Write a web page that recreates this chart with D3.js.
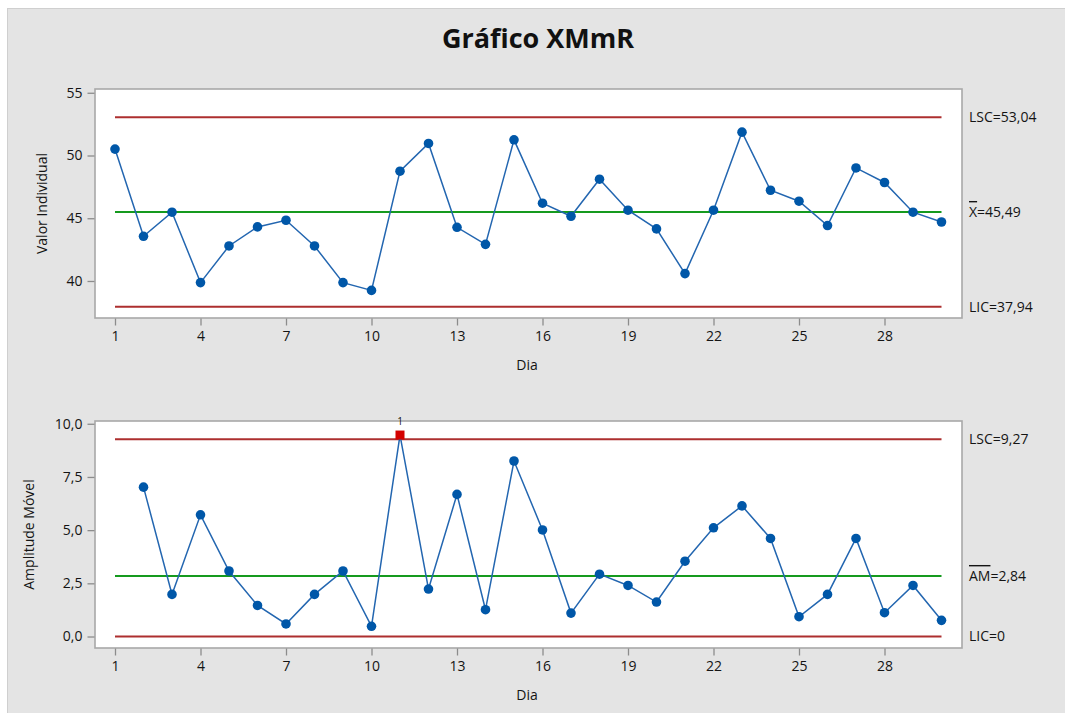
<!DOCTYPE html>
<html>
<head>
<meta charset="utf-8">
<script src="https://cdn.jsdelivr.net/npm/d3@7"></script>
<style>
  html, body { margin: 0; padding: 0; background: #ffffff; }
  svg { display: block; font-family: "Open Sans", "Noto Sans", sans-serif; }
</style>
</head>
<body>
<svg id="chart" width="1065" height="713"></svg>
<script>
// Days (subgroup index)
const days = [1, 2, 3, 4, 5, 6, 7, 8, 9, 10, 11, 12, 13, 14, 15,
              16, 17, 18, 19, 20, 21, 22, 23, 24, 25, 26, 27, 28, 29, 30];

// Individual observations
const individual = [50.51, 43.56, 45.48, 39.87, 42.79, 44.31, 44.84, 42.79, 39.87, 39.25,
                    48.75, 50.96, 44.28, 42.92, 51.25, 46.20, 45.16, 48.11, 45.64, 44.15,
                    40.59, 45.64, 51.86, 47.23, 46.36, 44.42, 49.01, 47.85, 45.48, 44.70];

// Moving ranges (none for the first day)
const movingRange = [null, 7.02, 1.98, 5.72, 3.08, 1.46, 0.59, 1.98, 3.08, 0.48,
                     9.47, 2.23, 6.68, 1.26, 8.25, 5.01, 1.10, 2.93, 2.40, 1.62,
                     3.54, 5.11, 6.14, 4.61, 0.93, 1.98, 4.61, 1.12, 2.40, 0.76];

// Control limits: [upper, center, lower]
const indLimits = [53.04, 45.49, 37.94];
const mrLimits = [9.27, 2.84, 0];
const indLimitLabels = ["LSC=53,04", "X=45,49", "LIC=37,94"];
const mrLimitLabels = ["LSC=9,27", "AM=2,84", "LIC=0"];

// Tick values
const xTicks = [1, 4, 7, 10, 13, 16, 19, 22, 25, 28];
const indTicks = [40, 45, 50, 55];
const mrTicks = [0, 2.5, 5, 7.5, 10];

const svg = d3.select("#chart");
const W = 1065, H = 713;

const C = {
  bg: "#e4e4e4",
  frame: "#a8a8a8",
  axis: "#8c8c8c",
  text: "#141414",
  red: "#ad2f2f",
  green: "#159a1e",
  line: "#2366b0",
  dot: "#0057a8",
  flag: "#d40000"
};

// Gray chart background
svg.append("rect")
  .attr("x", 7.5).attr("y", 8.5)
  .attr("width", W - 7).attr("height", H - 8)
  .attr("fill", C.bg)
  .attr("stroke", "#cfcfcf").attr("stroke-width", 1);

svg.append("text")
  .attr("x", 538).attr("y", 48)
  .attr("text-anchor", "middle")
  .attr("font-size", 27).attr("font-weight", 700)
  .attr("fill", "#111")
  .text("Gráfico XMmR");

const fmtComma = d3.format(".1f");
const commaDec = v => fmtComma(v).replace(".", ",");

function panel(opts) {
  const { top, bottom, yDomain, yTicks, yFmt, values, limits, limitLabels,
          overbarChars, yLabel, yLabelX } = opts;
  const left = 95, right = 962;

  const x = d3.scaleLinear().domain([1, 30]).range([115, 941.5]);
  const y = d3.scaleLinear().domain(yDomain).range([bottom, top]);

  const g = svg.append("g");

  // Plot area
  g.append("rect")
    .attr("x", left).attr("y", top)
    .attr("width", right - left).attr("height", bottom - top)
    .attr("fill", "#ffffff")
    .attr("stroke", C.frame).attr("stroke-width", 1.6);

  // Y axis
  const yAxis = g.append("g")
    .attr("transform", `translate(${left - 0.5},0)`)
    .call(d3.axisLeft(y).tickValues(yTicks).tickFormat(yFmt).tickSize(7).tickPadding(5));
  yAxis.select(".domain").remove();
  yAxis.selectAll(".tick line").attr("stroke", C.axis).attr("stroke-width", 1.3);
  yAxis.selectAll(".tick text").attr("font-size", 14).attr("font-weight", 500).attr("fill", C.text)
    .attr("font-family", "'Open Sans', sans-serif");

  // X axis
  const xAxis = g.append("g")
    .attr("transform", `translate(0,${bottom + 0.5})`)
    .call(d3.axisBottom(x).tickValues(xTicks).tickFormat(d3.format("d")).tickSize(7).tickPadding(6));
  xAxis.select(".domain").remove();
  xAxis.selectAll(".tick line").attr("stroke", C.axis).attr("stroke-width", 1.3);
  xAxis.selectAll(".tick text").attr("font-size", 14).attr("font-weight", 500).attr("fill", C.text)
    .attr("font-family", "'Open Sans', sans-serif");

  g.append("text")
    .attr("x", 527).attr("y", bottom + 52)
    .attr("text-anchor", "middle")
    .attr("font-size", 14).attr("font-weight", 500).attr("fill", C.text)
    .text("Dia");

  g.append("text")
    .attr("transform", `translate(${yLabelX},${(top + bottom) / 2}) rotate(-90)`)
    .attr("text-anchor", "middle")
    .attr("font-size", 14).attr("font-weight", 500).attr("fill", C.text)
    .text(yLabel);

  // Control limit lines
  limits.forEach((v, i) => {
    g.append("line")
      .attr("x1", x(1)).attr("x2", x(30))
      .attr("y1", y(v)).attr("y2", y(v))
      .attr("stroke", i === 1 ? C.green : C.red)
      .attr("stroke-width", 2);

    const label = limitLabels[i];
    const t = g.append("text")
      .attr("x", 969).attr("y", y(v))
      .attr("dy", "0.35em")
      .attr("font-size", 14).attr("font-weight", 500).attr("fill", C.text);
    if (i === 1) {
      const n = overbarChars;
      t.append("tspan").attr("text-decoration", "overline").text(label.slice(0, n));
      t.append("tspan").text(label.slice(n));
    } else {
      t.text(label);
    }
  });

  // Series line
  const pts = days.map((d, i) => ({ d, v: values[i] })).filter(p => p.v != null);
  g.append("path")
    .datum(pts)
    .attr("fill", "none")
    .attr("stroke", C.line)
    .attr("stroke-width", 1.5)
    .attr("d", d3.line().x(p => x(p.d)).y(p => y(p.v)));

  const ucl = limits[0], lcl = limits[2];
  const out = p => p.v > ucl || p.v < lcl;

  g.selectAll("circle.pt")
    .data(pts.filter(p => !out(p)))
    .join("circle")
    .attr("class", "pt")
    .attr("cx", p => x(p.d)).attr("cy", p => y(p.v))
    .attr("r", 4.8)
    .attr("fill", C.dot);

  // Points beyond the limits: red square with test number
  const flagged = pts.filter(out);
  g.selectAll("rect.flag")
    .data(flagged)
    .join("rect")
    .attr("class", "flag")
    .attr("x", p => x(p.d) - 4.5).attr("y", p => y(p.v) - 4.5)
    .attr("width", 9).attr("height", 9)
    .attr("fill", C.flag);
  g.selectAll("text.flag")
    .data(flagged)
    .join("text")
    .attr("class", "flag")
    .attr("x", p => x(p.d)).attr("y", p => y(p.v) - 10)
    .attr("text-anchor", "middle")
    .attr("font-size", 10).attr("font-weight", 500).attr("fill", C.text)
    .text("1");
}

panel({
  top: 89, bottom: 318,
  yDomain: [37.05, 55.3],
  yTicks: indTicks,
  yFmt: d3.format("d"),
  values: individual,
  limits: indLimits,
  limitLabels: indLimitLabels,
  overbarChars: 1,
  yLabel: "Valor Individual",
  yLabelX: 47
});

panel({
  top: 421, bottom: 648,
  yDomain: [-0.54, 10.13],
  yTicks: mrTicks,
  yFmt: commaDec,
  values: movingRange,
  limits: mrLimits,
  limitLabels: mrLimitLabels,
  overbarChars: 2,
  yLabel: "Amplitude Móvel",
  yLabelX: 34
});
</script>
</body>
</html>
